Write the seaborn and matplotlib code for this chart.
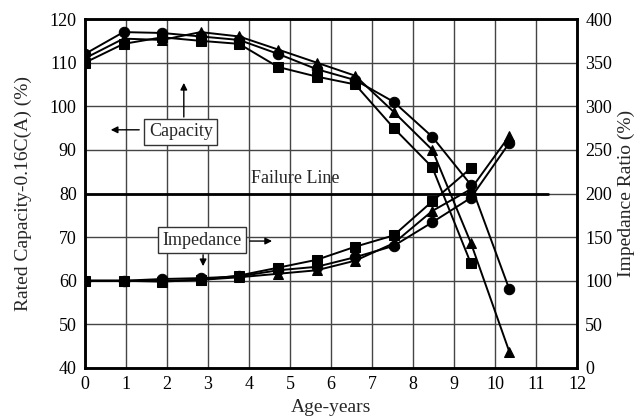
import numpy as np
import pandas as pd
import seaborn as sns
import matplotlib.pyplot as plt

# Test ages (years) at which each cell was measured
age = [0, 0.94, 1.88, 2.82, 3.76, 4.71, 5.65, 6.59, 7.53, 8.47, 9.41, 10.35]

# Capacity (% of rated at 0.16C) for three cells
cap_circle = [112, 117, 116.8, 116, 115.2, 112, 108.5, 106, 101, 93, 82, 58]
cap_triangle = [111, 115.5, 115.2, 117, 116, 113, 110, 107, 98.7, 90, 68.7, 43.7]
cap_square = [110, 114.3, 115.8, 115, 114.3, 109, 106.8, 105, 95, 86, 64]

# Impedance ratio (%) for the same three cells
imp_circle = [100, 100, 102, 103, 105, 112, 116, 127, 140, 167, 195, 258]
imp_triangle = [100, 100, 100, 101, 104, 108, 112, 123, 143, 180, 205, 266]
imp_square = [100, 100, 99, 101, 106, 115, 124, 139, 152, 191, 229]

x_ticks = list(range(0, 13))
left_ticks = list(range(40, 121, 10))
right_ticks = list(range(0, 401, 50))

sns.set_style("white")
plt.rcParams['font.family'] = ['Liberation Serif', 'DejaVu Serif']

fig = plt.figure(figsize=(6.42, 4.16), dpi=100)
ax = fig.add_axes([0.1324, 0.1154, 0.7664, 0.8389])
ax2 = ax.twinx()

line_kw = dict(color='black', linewidth=1.4, markersize=7.5,
               markeredgecolor='black', markerfacecolor='black')

for vals, mk in [(cap_circle, 'o'), (cap_triangle, '^'), (cap_square, 's')]:
    sns.lineplot(x=age[:len(vals)], y=vals, marker=mk, ax=ax, **line_kw)

for vals, mk in [(imp_circle, 'o'), (imp_triangle, '^'), (imp_square, 's')]:
    sns.lineplot(x=age[:len(vals)], y=vals, marker=mk, ax=ax2, **line_kw)

ax.set_xlim(0, 12)
ax.set_ylim(40, 120)
ax2.set_ylim(0, 400)
ax.set_xticks(x_ticks)
ax.set_yticks(left_ticks)
ax2.set_yticks(right_ticks)

ax.grid(True, color='#444444', linewidth=1.0)
ax.set_axisbelow(True)
ax2.grid(False)

for a in (ax, ax2):
    for sp in a.spines.values():
        sp.set_color('black')
        sp.set_linewidth(1.8)
    a.tick_params(labelsize=13, length=0, pad=6, colors='black')

# Failure line at 80 % capacity
ax.plot([0, 11.3], [80, 80], color='black', linewidth=2.0, zorder=3)
ax.text(5.12, 83.5, 'Failure Line', fontsize=13, ha='center', va='center')

box = dict(boxstyle='square,pad=0.25', facecolor='white', edgecolor='#333333', linewidth=1.0)
arrow = dict(arrowstyle='-|>', color='black', linewidth=1.0, mutation_scale=10)

ax.text(2.34, 94.1, 'Capacity', fontsize=13, ha='center', va='center', bbox=box, zorder=5)
ax.annotate('', xy=(0.56, 94.6), xytext=(1.39, 94.6), arrowprops=arrow)
ax.annotate('', xy=(2.41, 106), xytext=(2.41, 96.9), arrowprops=arrow)

ax.text(2.85, 69.3, 'Impedance', fontsize=13, ha='center', va='center', bbox=box, zorder=5)
ax.annotate('', xy=(4.63, 69.1), xytext=(3.95, 69.1), arrowprops=arrow)
ax.annotate('', xy=(2.88, 62.7), xytext=(2.88, 66.6), arrowprops=arrow)

ax.set_xlabel('Age-years', fontsize=14, labelpad=4)
ax.set_ylabel('Rated Capacity-0.16C(A) (%)', fontsize=14, labelpad=13)
ax2.set_ylabel('Impedance Ratio (%)', fontsize=14, labelpad=4)

fig.savefig('out.png', dpi=100)
